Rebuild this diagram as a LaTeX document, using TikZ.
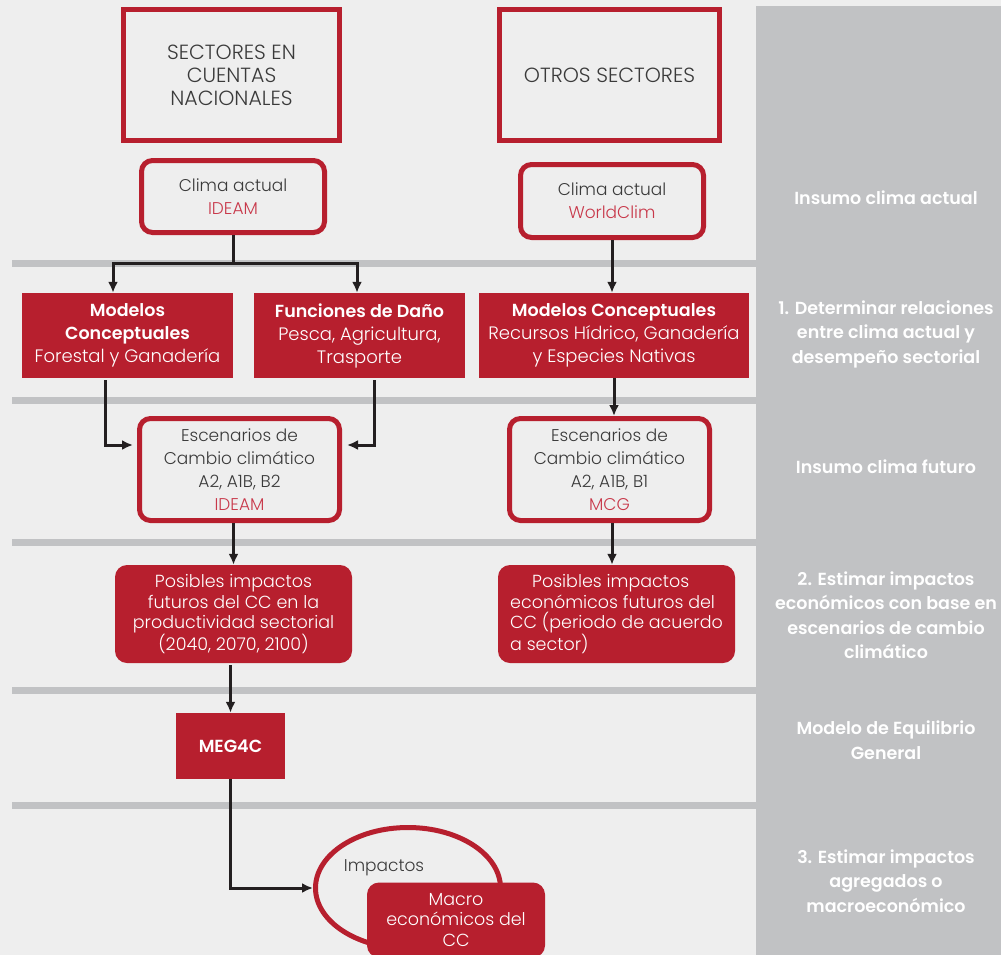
\documentclass[tikz,border=0pt]{standalone}
\usepackage{fontspec}
\setmainfont{Poppins}[UprightFont=* Light, BoldFont=* SemiBold]
\usetikzlibrary{calc, shapes, arrows.meta}
\definecolor{rojo}{HTML}{B71F2E}
\definecolor{rojoclaro}{HTML}{C8384A}
\definecolor{texto}{HTML}{3A3A3A}
\definecolor{fondo}{HTML}{EEEEEE}
\definecolor{barra}{HTML}{C1C2C4}
\definecolor{linea}{HTML}{231F20}
\newcommand{\titulo}[1]{{\bfseries\fontsize{17.5}{22}\selectfont #1}}

\begin{document}
\begin{tikzpicture}[x=1pt, y=-1pt, >={Latex[length=11pt,width=10pt]}]
	\tikzstyle{sector}=[rectangle, draw=rojo, line width=5pt, text=texto,
	align=center, minimum height=131pt, font=\fontsize{20.5}{23}\selectfont]
	\tikzstyle{clima}=[rectangle, draw=rojo, line width=5pt, rounded corners=11pt,
	text=texto, align=center, font=\fontsize{17}{23}\selectfont]
	\tikzstyle{modelo}=[rectangle, fill=rojo, text=white, align=center,
	minimum height=85pt, font=\fontsize{18}{23}\selectfont]
	\tikzstyle{impacto}=[rectangle, fill=rojo, rounded corners=12pt, text=white,
	align=center, font=\fontsize{17.5}{20.5}\selectfont]
	\tikzstyle{etapa}=[text=white, align=center, font=\bfseries\fontsize{17.5}{24.5}\selectfont]
	\tikzstyle{flecha}=[line width=3pt, draw=linea]
	\tikzstyle{separador}=[barra, line width=7pt]

	\clip (0,0) rectangle (1001,955);
	\fill[fondo] (0,0) rectangle (1001,955);
	\fill[barra] (756,6) rectangle (1001,955);
	\draw[separador] (12,263.5) -- (756,263.5);
	\draw[separador] (12,400.5) -- (756,400.5);
	\draw[separador] (12,542.5) -- (756,542.5);
	\draw[separador] (12,690.5) -- (756,690.5);
	\draw[separador] (12,805.5) -- (756,805.5);

	\node[sector, minimum width=216pt] at (231.5,75) (cuentas) {SECTORES EN\\CUENTAS\\NACIONALES};
	\node[sector, minimum width=220pt] at (609.5,75) (otros) {OTROS SECTORES};
	\node[clima, minimum width=183pt, minimum height=72pt] at (233,196.5) (climaA) {Clima actual\\\textcolor{rojoclaro}{IDEAM}};
	\node[clima, minimum width=183pt, minimum height=73pt] at (612,201) (climaB) {Clima actual\\\textcolor{rojoclaro}{WorldClim}};

	\node[modelo, minimum width=211pt] at (127.5,335.5) (modA) {\titulo{Modelos}\\\titulo{Conceptuales}\\Forestal y Ganadería};
	\node[modelo, minimum width=211pt] at (359.5,335.5) (dano) {\titulo{Funciones de Daño}\\Pesca, Agricultura,\\Trasporte};
	\node[modelo, minimum width=270pt] at (614,335.5) (modB) {\titulo{Modelos Conceptuales}\\Recursos Hídrico, Ganadería\\y Especies Nativas};

	\node[clima, minimum width=200pt, minimum height=102pt] at (239.5,469.5) (escA) {Escenarios de\\Cambio climático\\A2, A1B, B2\\\textcolor{rojoclaro}{IDEAM}};
	\node[clima, minimum width=200pt, minimum height=102pt] at (609.5,469.5) (escB) {Escenarios de\\Cambio climático\\A2, A1B, B1\\\textcolor{rojoclaro}{MCG}};

	\node[impacto, minimum width=237pt, minimum height=98pt] at (233.5,614) (posA) {Posibles impactos\\futuros del CC en la\\productividad sectorial\\(2040, 2070, 2100)};
	\node[impacto, minimum width=237pt, minimum height=98pt, align=left] at (616.5,614) (posB) {\hspace*{22pt}Posibles impactos\\económicos futuros del\\CC (periodo de acuerdo\\a sector)};

	\node[modelo, minimum width=109pt, minimum height=66pt] at (230.5,746) (meg) {\titulo{MEG4C}};

	\node[ellipse, draw=rojo, line width=5pt, minimum width=185pt, minimum height=121pt] at (408,888) (elipse) {};
	\node[text=texto, font=\fontsize{17}{21}\selectfont] at (384,868) (impactos) {Impactos};
	\node[impacto, minimum width=178pt, minimum height=75pt] at (456,920) (macro) {Macro\\económicos del\\CC};

	\node[etapa] at (886,198) (insumoA) {Insumo clima actual};
	\node[etapa] at (886,334) (paso1) {1. Determinar relaciones\\entre clima actual y\\desempeño sectorial};
	\node[etapa] at (886,467) (insumoB) {Insumo clima futuro};
	\node[etapa] at (886,615) (paso2) {2. Estimar impactos\\económicos con base en\\escenarios de cambio\\climático};
	\node[etapa] at (886,740) (equilibrio) {Modelo de Equilibrio\\General};
	\node[etapa] at (886,881) (paso3) {3. Estimar impactos\\agregados o\\macroeconómico};

	\draw[flecha, ->] (climaA.south) -- ++(0,28) -| ([xshift=-14.5pt]modA.north);
	\draw[flecha, ->] (climaA.south) -- ++(0,28) -| ([xshift=-2.5pt]dano.north);
	\draw[flecha, ->] (climaB.south) -- (climaB.south |- modB.north);

	\draw[flecha, ->, shorten <=2pt, shorten >=4pt] ([xshift=-22.5pt]modA.south) |- ([yshift=24.5pt]escA.west);
	\draw[flecha, ->, shorten <=2pt, shorten >=5pt] ([xshift=14.5pt]dano.south) |- ([yshift=24.5pt]escA.east);
	\draw[flecha, ->] (modB.south) -- (modB.south |- escB.north);

	\draw[flecha, ->] (posA.north |- escA.south) -- (posA.north);
	\draw[flecha, ->] ([xshift=2.5pt]escB.south) -- ([xshift=2.5pt]escB.south |- posB.north);

	\draw[flecha, ->, shorten <=2pt] (meg.north |- posA.south) -- (meg.north);
	\draw[flecha, ->] (meg.south) |- (elipse.west);
\end{tikzpicture}
\end{document}
